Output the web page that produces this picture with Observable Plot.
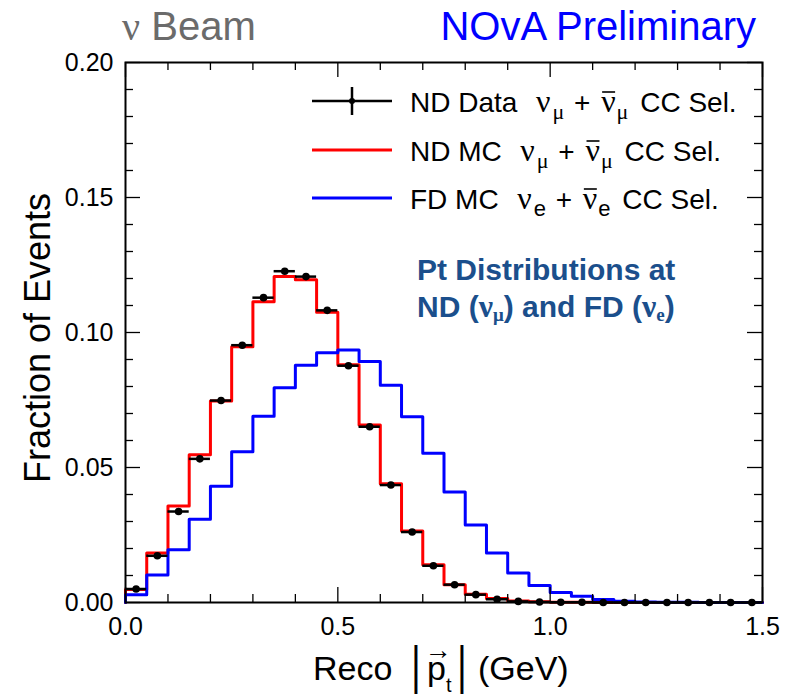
<!DOCTYPE html>
<html>
<head>
<meta charset="utf-8">
<script src="https://cdn.jsdelivr.net/npm/d3@7"></script>
<script src="https://cdn.jsdelivr.net/npm/@observablehq/plot@0.6"></script>
<style>
  body { margin: 0; background: #fff; }
  #chart { width: 795px; height: 698px; }
</style>
</head>
<body>
<div id="chart"></div>
<script>
// ---- data ----
const binWidth = 0.05;
const binLow = [0.00, 0.05, 0.10, 0.15, 0.20, 0.25, 0.30, 0.35, 0.40, 0.45,
                0.50, 0.55, 0.60, 0.65, 0.70, 0.75, 0.80, 0.85, 0.90, 0.95,
                1.00, 1.05, 1.10, 1.15, 1.20, 1.25, 1.30, 1.35, 1.40, 1.45];
const ndData = [0.0050, 0.0173, 0.0337, 0.0532, 0.0748, 0.0953, 0.1129, 0.1227, 0.1207, 0.1082,
                0.0877, 0.0651, 0.0435, 0.0261, 0.0136, 0.0066, 0.0029, 0.0012, 0.0004, 0.0002,
                0.0001, 0.0001, 0.0000, 0.0000, 0.0000, 0.0000, 0.0000, 0.0000, 0.0000, 0.0000];
const ndMC   = [0.0048, 0.0183, 0.0357, 0.0547, 0.0746, 0.0947, 0.1114, 0.1207, 0.1195, 0.1075,
                0.0881, 0.0657, 0.0440, 0.0265, 0.0140, 0.0066, 0.0031, 0.0015, 0.0006, 0.0003,
                0.0001, 0.0001, 0.0000, 0.0000, 0.0000, 0.0000, 0.0000, 0.0000, 0.0000, 0.0000];
const fdMC   = [0.0029, 0.0102, 0.0195, 0.0308, 0.0431, 0.0558, 0.0690, 0.0795, 0.0879, 0.0925,
                0.0935, 0.0893, 0.0805, 0.0688, 0.0553, 0.0409, 0.0287, 0.0183, 0.0109, 0.0063,
                0.0037, 0.0023, 0.0011, 0.0005, 0.0002, 0.0001, 0.0001, 0.0000, 0.0000, 0.0000];

const xTicks = [0, 0.5, 1.0, 1.5];
const xTickLabels = ["0.0", "0.5", "1.0", "1.5"];
const xMinorTicks = [0.1, 0.2, 0.3, 0.4, 0.6, 0.7, 0.8, 0.9, 1.1, 1.2, 1.3, 1.4];
const yTicks = [0, 0.05, 0.10, 0.15, 0.20];
const yTickLabels = ["0.00", "0.05", "0.10", "0.15", "0.20"];
const yMinorTicks = [0.01, 0.02, 0.03, 0.04, 0.06, 0.07, 0.08, 0.09, 0.11, 0.12, 0.13, 0.14, 0.16, 0.17, 0.18, 0.19];

const seriesNames = ["ND Data", "ND MC", "FD MC"];
const seriesFlavour = ["μ", "μ", "e"];
const seriesColors = ["#000000", "#ff0000", "#0000ff"];

// ---- derived tables ----
function stepPoints(vals) {
  const pts = [{x: binLow[0], y: 0}];
  vals.forEach((v, i) => pts.push({x: binLow[i], y: v}));
  const last = vals.length - 1;
  pts.push({x: binLow[last] + binWidth, y: vals[last]});
  return pts;
}
const dataRows = ndData.map((v, i) => ({lo: binLow[i], hi: binLow[i] + binWidth, c: binLow[i] + binWidth / 2, v}));

// ---- layout ----
const W = 795, H = 698, mL = 125, mR = 33, mT = 62, mB = 96;
const fw = W - mL - mR, fh = H - mT - mB;
const FONT = "'Liberation Sans', Arial, Helvetica, sans-serif";
const GREEK = "'Liberation Serif', 'Times New Roman', serif";
const majorLen = 15, minorLen = 8;

const plot = Plot.plot({
  width: W, height: H,
  marginLeft: mL, marginRight: mR, marginTop: mT, marginBottom: mB,
  style: {fontFamily: FONT, background: "white", color: "black"},
  x: {domain: [0, 1.5]},
  y: {domain: [0, 0.2]},
  marks: [
    Plot.line(stepPoints(ndMC), {x: "x", y: "y", curve: "step-after", stroke: seriesColors[1], strokeWidth: 3}),
    Plot.line(stepPoints(fdMC), {x: "x", y: "y", curve: "step-after", stroke: seriesColors[2], strokeWidth: 3}),
    Plot.ruleY(dataRows, {x1: "lo", x2: "hi", y: "v", stroke: seriesColors[0], strokeWidth: 2.5}),
    Plot.dot(dataRows, {x: "c", y: "v", r: 3.8, fill: seriesColors[0], stroke: "none"}),
    // inward ticks on all four sides
    Plot.tickY(yTicks, {y: d => d, insetRight: fw - majorLen, stroke: "black", strokeWidth: 1.3}),
    Plot.tickY(yMinorTicks, {y: d => d, insetRight: fw - minorLen, stroke: "black", strokeWidth: 1.3}),
    Plot.tickY(yTicks, {y: d => d, insetLeft: fw - majorLen, stroke: "black", strokeWidth: 1.3}),
    Plot.tickY(yMinorTicks, {y: d => d, insetLeft: fw - minorLen, stroke: "black", strokeWidth: 1.3}),
    Plot.tickX(xTicks, {x: d => d, insetTop: fh - majorLen, stroke: "black", strokeWidth: 1.3}),
    Plot.tickX(xMinorTicks, {x: d => d, insetTop: fh - minorLen, stroke: "black", strokeWidth: 1.3}),
    Plot.tickX(xTicks, {x: d => d, insetBottom: fh - majorLen, stroke: "black", strokeWidth: 1.3}),
    Plot.tickX(xMinorTicks, {x: d => d, insetBottom: fh - minorLen, stroke: "black", strokeWidth: 1.3}),
    Plot.frame({stroke: "black", strokeWidth: 2}),
    Plot.axisX({ticks: xTicks, tickSize: 0, tickPadding: 15, fontSize: 25, label: null,
                tickFormat: d => xTickLabels[xTicks.indexOf(d)]}),
    Plot.axisY({ticks: yTicks, tickSize: 0, tickPadding: 12, fontSize: 25, label: null,
                tickFormat: d => yTickLabels[yTicks.indexOf(d)]})
  ]
});
document.getElementById("chart").appendChild(plot);

// ---- text overlays (real SVG text) ----
const svg = d3.select(plot);
const g = svg.append("g").attr("font-family", FONT).attr("text-anchor", "start");

function addRich(x, y, parts, attrs = {}) {
  const t = g.append("text").attr("x", x).attr("y", y).attr("text-anchor", "start");
  Object.entries(attrs).forEach(([k, v]) => t.attr(k, v));
  const spans = parts.map(p => {
    const s = t.append("tspan").text(p.t);
    if (p.size) s.attr("font-size", p.size);
    if (p.dy) s.attr("dy", p.dy);
    if (p.dx) s.attr("dx", p.dx);
    if (p.family) s.attr("font-family", p.family);
    return s;
  });
  // overlines (anti-neutrino bar) drawn just above the marked glyph
  parts.forEach((p, i) => {
    if (!p.over) return;
    const node = spans[i].node();
    const start = node.getStartPositionOfChar(0);
    const len = node.getComputedTextLength();
    g.append("line").attr("x1", start.x + 1).attr("x2", start.x + len - 0.5)
      .attr("y1", start.y - p.over).attr("y2", start.y - p.over)
      .attr("stroke", attrs.fill || "black").attr("stroke-width", 1.6);
  });
  return t;
}

// header
addRich(122, 40, [{t: "ν", family: GREEK}, {t: " Beam"}], {"font-size": 40, fill: "#6b6b6b"});
g.append("text").attr("x", 756).attr("y", 40).attr("font-size", 40).attr("fill", "#0000ff")
  .attr("text-anchor", "end").text("NOvA Preliminary");

// axis titles
g.append("text").attr("transform", "translate(50,338) rotate(-90)").attr("text-anchor", "middle")
  .attr("font-size", 36).attr("fill", "black").text("Fraction of Events");

g.append("text").attr("x", 313).attr("y", 680).attr("font-size", 34).text("Reco");
g.append("text").attr("transform", "translate(416,683) scale(1,1.45)").attr("font-size", 36)
  .attr("text-anchor", "middle").text("|");
g.append("text").attr("x", 427).attr("y", 680).attr("font-size", 34).text("p");
g.append("text").attr("x", 438).attr("y", 659).attr("font-size", 27).attr("text-anchor", "middle").text("→");
g.append("text").attr("x", 446).attr("y", 692).attr("font-size", 20).text("t");
g.append("text").attr("transform", "translate(462,683) scale(1,1.45)").attr("font-size", 36)
  .attr("text-anchor", "middle").text("|");
g.append("text").attr("x", 478).attr("y", 680).attr("font-size", 34).text("(GeV)");

// legend
const legendY = [101, 150, 198];
seriesNames.forEach((name, i) => {
  const y = legendY[i];
  g.append("line").attr("x1", 312).attr("x2", 392).attr("y1", y).attr("y2", y)
    .attr("stroke", seriesColors[i]).attr("stroke-width", i === 0 ? 2.5 : 3);
  if (i === 0) {
    g.append("line").attr("x1", 352).attr("x2", 352).attr("y1", y - 14).attr("y2", y + 14)
      .attr("stroke", "black").attr("stroke-width", 2.5);
    g.append("circle").attr("cx", 352).attr("cy", y).attr("r", 3).attr("fill", "black");
  }
  const f = seriesFlavour[i];
  const greekF = f === "μ";
  addRich(410, y + 11, [
    {t: name + "  "},
    {t: "ν", family: GREEK, size: 32, dx: 3},
    {t: f, size: 22, dy: 7, dx: 2, family: greekF ? GREEK : FONT},
    {t: " + ", dy: -7, dx: 2},
    {t: "ν", family: GREEK, size: 32, over: 20, dx: 3},
    {t: f, size: 22, dy: 7, dx: 1, family: greekF ? GREEK : FONT},
    {t: " CC Sel.", dy: -7, dx: 4}
  ], {"font-size": 28, fill: "black"});
});

// annotation
const noteColor = "#1b4f8c";
g.append("text").attr("x", 417).attr("y", 280).attr("font-size", 30).attr("font-weight", "bold")
  .attr("fill", noteColor).text("Pt Distributions at");
addRich(417, 317, [
  {t: "ND ("},
  {t: "ν", family: GREEK, size: 32},
  {t: "μ", size: 19, dy: 4, family: GREEK},
  {t: ") and FD (", dy: -4},
  {t: "ν", family: GREEK, size: 32},
  {t: "e", size: 19, dy: 4, family: GREEK},
  {t: ")", dy: -4}
], {"font-size": 30, "font-weight": "bold", fill: noteColor});
</script>
</body>
</html>
